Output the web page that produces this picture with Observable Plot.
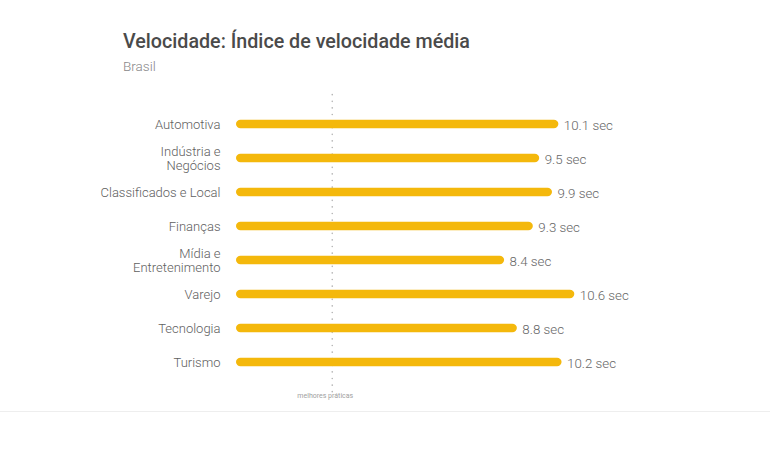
<!DOCTYPE html>
<html>
<head>
<meta charset="utf-8">
<script src="https://cdn.jsdelivr.net/npm/d3@7"></script>
<script src="https://cdn.jsdelivr.net/npm/@observablehq/plot@0.6"></script>
<style>
  html, body { margin: 0; padding: 0; background: #ffffff; }
  body { width: 770px; height: 474px; overflow: hidden; font-family: Roboto, "Noto Sans", sans-serif; }
  #wrap { position: relative; width: 770px; border-bottom: 1px solid #eeeeee; }
  #title { position: absolute; left: 123px; top: 30px; margin: 0; font-size: 19.7px; line-height: 24px; font-weight: 500; color: #4a4a4a; }
  #subtitle { position: absolute; left: 123px; top: 58px; margin: 0; font-size: 13.5px; line-height: 16px; font-weight: 300; color: #888888; }
  #chart { position: absolute; left: 0; top: 73px; }
  #chart svg { display: block; }
</style>
</head>
<body>
<div id="wrap" style="height:411px">
  <h2 id="title">Velocidade: Índice de velocidade média</h2>
  <div id="subtitle">Brasil</div>
  <div id="chart"></div>
</div>
<script>
const categories = ["Automotiva", "Indústria e Negócios", "Classificados e Local", "Finanças", "Mídia e Entretenimento", "Varejo", "Tecnologia", "Turismo"];
const tickLabels = ["Automotiva", "Indústria e\nNegócios", "Classificados e Local", "Finanças", "Mídia e\nEntretenimento", "Varejo", "Tecnologia", "Turismo"];
const speedIndex = [10.1, 9.5, 9.9, 9.3, 8.4, 10.6, 8.8, 10.2];
const bestPractice = [3];
const bestPracticeLabel = "melhores práticas";

const data = categories.map((c, i) => ({cat: c, label: tickLabels[i], value: speedIndex[i]}));

const chart = Plot.plot({
  width: 770,
  height: 335,
  marginLeft: 236,
  marginRight: 151,
  marginTop: 29.65,
  marginBottom: 25.4,
  x: {domain: [0, 12], axis: null},
  y: {domain: categories, axis: null, padding: 0},
  style: {fontFamily: "Roboto, 'Noto Sans', sans-serif", background: "transparent"},
  marks: [
    Plot.ruleX(bestPractice, {x: d => d, stroke: "#b5b5b5", strokeWidth: 1.6, strokeDasharray: "0.1,6.5", strokeLinecap: "round", insetTop: -8, insetBottom: -12}),
    Plot.barX(data, {y: "cat", x1: 0, x2: "value", fill: "#F4B80C", insetTop: 12.8, insetBottom: 12.8, rx: 4.5}),
    Plot.text(data, {y: "cat", x: 0, text: "label", textAnchor: "end", dx: -16, fontSize: 13, fontWeight: 300, fill: "#606060", lineHeight: 1.1}),
    Plot.text(data, {y: "cat", x: "value", text: d => d.value.toFixed(1) + " sec", textAnchor: "start", dx: 5, dy: 1, fontSize: 13.3, fontWeight: 300, fill: "#666666"}),
    Plot.text(bestPractice, {x: d => d, frameAnchor: "bottom", dy: 15, dx: -7, text: () => bestPracticeLabel, fontSize: 7, fill: "#a0a0a0"})
  ]
});
document.getElementById("chart").appendChild(chart);
</script>
</body>
</html>
